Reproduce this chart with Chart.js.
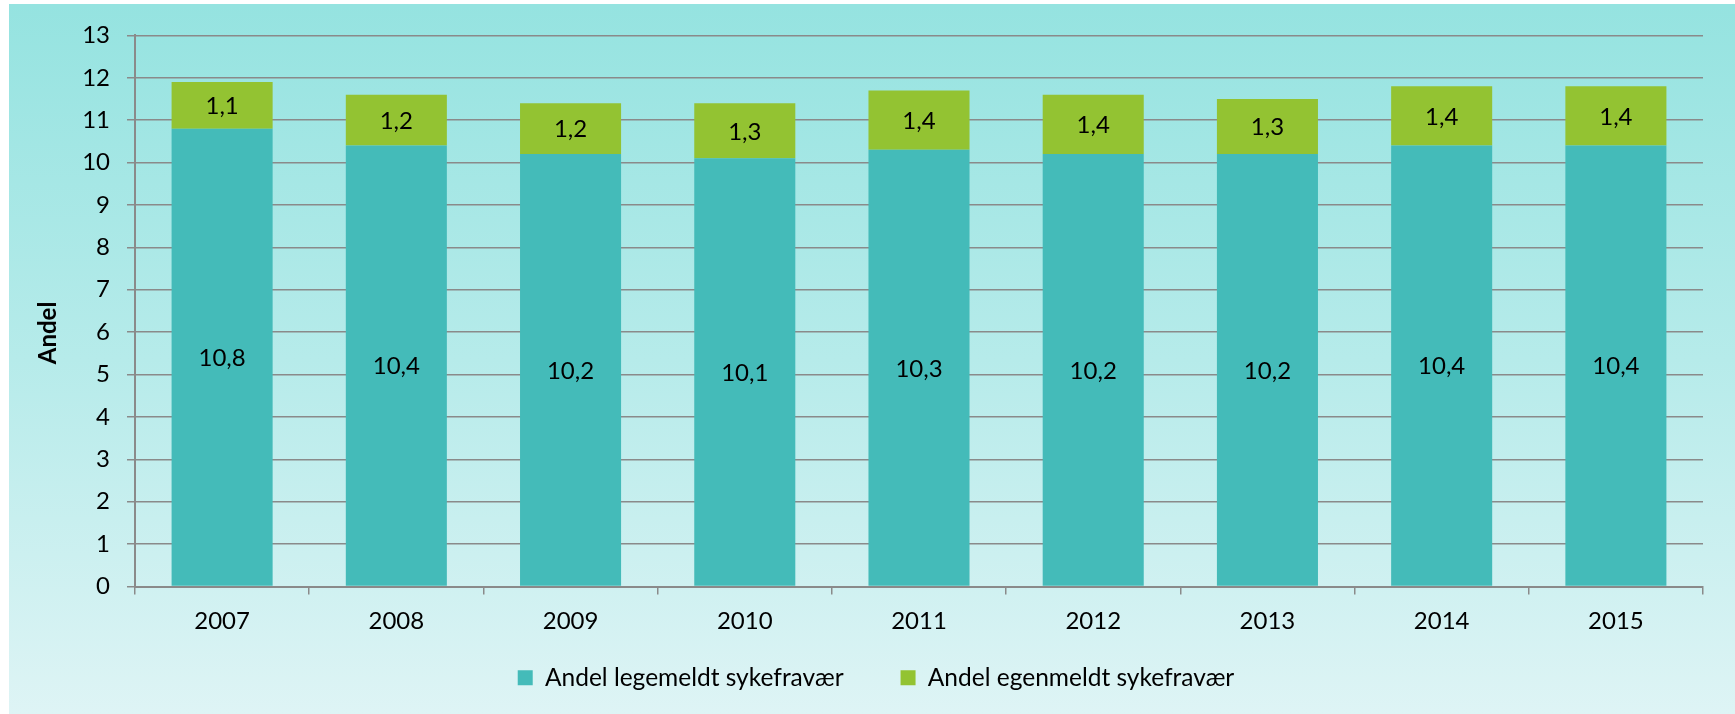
<!DOCTYPE html>
<html>
<head>
<meta charset="utf-8">
<script src="https://cdn.jsdelivr.net/npm/chart.js@4/dist/chart.umd.min.js"></script>
<style>
  html, body { margin: 0; padding: 0; background: #fff; overflow: hidden; }
  #wrap {
    position: absolute; left: 9px; top: 4px; width: 1726px; height: 710px;
    overflow: hidden;
    background: linear-gradient(to bottom, #95e3e0 0%, #b6ebea 50%, #def4f5 100%);
  }
  canvas { display: block; }
</style>
</head>
<body>
<div id="wrap"><canvas id="chart" width="1726" height="723"></canvas></div>
<script>
// Sykefravær, andel per år
const years = ['2007', '2008', '2009', '2010', '2011', '2012', '2013', '2014', '2015'];
const legemeldt = [10.8, 10.4, 10.2, 10.1, 10.3, 10.2, 10.2, 10.4, 10.4];
const egenmeldt = [1.1, 1.2, 1.2, 1.3, 1.4, 1.4, 1.3, 1.4, 1.4];
const seriesNames = ['Andel legemeldt sykefravær', 'Andel egenmeldt sykefravær'];
const yTicks = [0, 1, 2, 3, 4, 5, 6, 7, 8, 9, 10, 11, 12, 13];
const yTitle = 'Andel';

const FONT = 'Lato, "Open Sans", sans-serif';
const GRID = '#8a8a8a';

function fmt(v) {
  return v.toFixed(1).replace('.', ',');
}

// draws the value inside each stacked segment
const barLabels = {
  id: 'barLabels',
  afterDatasetsDraw(chart) {
    const ctx = chart.ctx;
    ctx.save();
    ctx.font = '24px ' + FONT;
    ctx.fillStyle = '#000';
    ctx.textAlign = 'center';
    ctx.textBaseline = 'middle';
    chart.data.datasets.forEach((ds, i) => {
      chart.getDatasetMeta(i).data.forEach((bar, j) => {
        const { x, y, base } = bar.getProps(['x', 'y', 'base'], true);
        ctx.fillText(fmt(ds.data[j]), x, (y + base) / 2 + 1);
      });
    });
    ctx.restore();
  },
};

// y axis title, sitting a bit below the axis middle like in Excel
const axisTitle = {
  id: 'axisTitle',
  afterDraw(chart) {
    const ctx = chart.ctx;
    const area = chart.chartArea;
    ctx.save();
    ctx.translate(39, (area.top + area.bottom) / 2 + 22);
    ctx.rotate(-Math.PI / 2);
    ctx.font = 'bold 24px ' + FONT;
    ctx.fillStyle = '#000';
    ctx.textAlign = 'center';
    ctx.textBaseline = 'middle';
    ctx.fillText(yTitle, 0, 0);
    ctx.restore();
  },
};

// wide gap between legend items needs big padding, so pull the legend back up
const legendNudge = {
  id: 'legendNudge',
  afterLayout(chart) {
    const lg = chart.legend;
    if (!lg) return;
    lg.top -= 27;
    lg.bottom -= 27;
  },
};

new Chart(document.getElementById('chart'), {
  type: 'bar',
  data: {
    labels: years,
    datasets: [
      { label: seriesNames[0], data: legemeldt, backgroundColor: '#44bbb9' },
      { label: seriesNames[1], data: egenmeldt, backgroundColor: '#93c332' },
    ],
  },
  options: {
    responsive: false,
    animation: false,
    layout: { padding: { left: 40, right: 32, top: 30, bottom: 0 } },
    datasets: { bar: { categoryPercentage: 1, barPercentage: 0.58 } },
    plugins: {
      tooltip: { enabled: false },
      legend: {
        position: 'bottom',
        labels: {
          boxWidth: 15,
          boxHeight: 15,
          padding: 57,
          color: '#000',
          font: { family: FONT, size: 24.5 },
        },
      },
    },
    scales: {
      x: {
        stacked: true,
        afterFit: (s) => { s.height = 49; },
        grid: { drawOnChartArea: false, drawTicks: true, tickLength: 8, color: GRID, lineWidth: 1.5 },
        border: { color: GRID, width: 2 },
        ticks: { color: '#000', padding: 12, font: { family: FONT, size: 24 } },
      },
      y: {
        stacked: true,
        min: 0,
        max: 13,
        afterFit: (s) => { s.width = 86; },
        afterBuildTicks: (s) => { s.ticks = yTicks.map((v) => ({ value: v })); },
        grid: { color: GRID, lineWidth: 1.5, tickLength: 8 },
        border: { color: GRID, width: 2 },
        ticks: { color: '#000', padding: 17, font: { family: FONT, size: 24 } },
      },
    },
  },
  plugins: [barLabels, axisTitle, legendNudge],
});
</script>
</body>
</html>
